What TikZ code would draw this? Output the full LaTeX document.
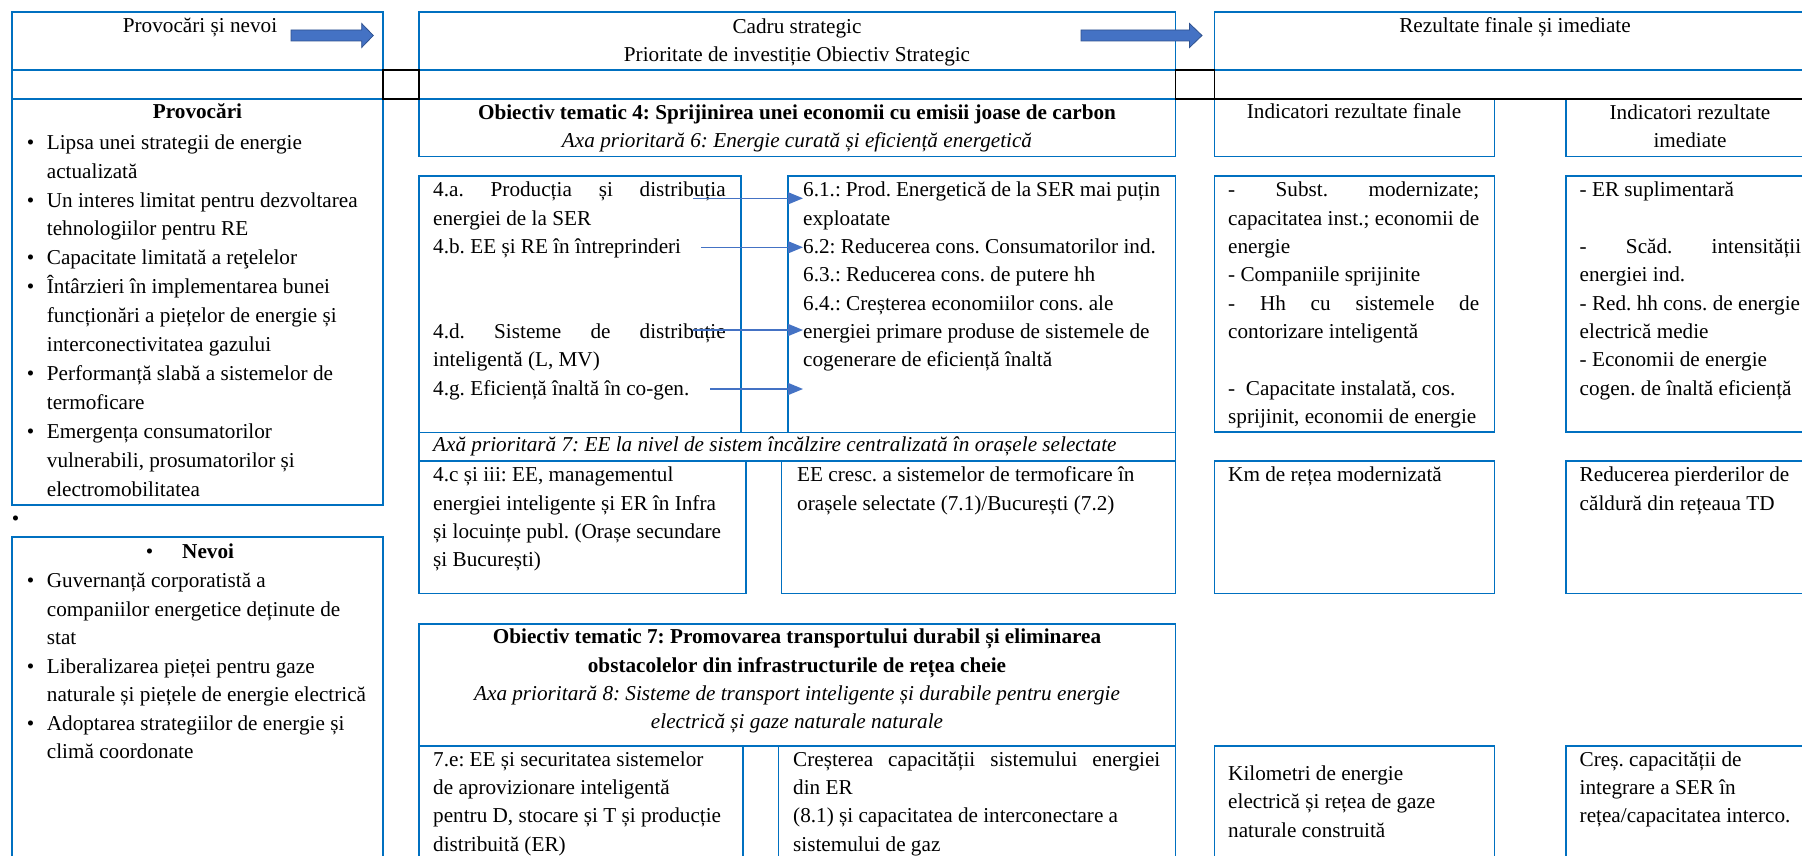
\documentclass[tikz,border=0pt]{standalone}
\usepackage{fontspec}
\setmainfont{Liberation Serif}
\usetikzlibrary{arrows.meta}
\definecolor{boxblue}{HTML}{0070C0}
\definecolor{arrowblue}{HTML}{4472C4}
\definecolor{arrowdark}{HTML}{2F528F}
\newcommand{\bodyfont}{\fontsize{21.2pt}{28.3pt}\selectfont\frenchspacing\hyphenpenalty=10000 }
\newcommand{\provfont}{\fontsize{21.2pt}{28.9pt}\selectfont\frenchspacing\hyphenpenalty=10000 }
\newcommand{\nevfont}{\fontsize{21.2pt}{28.5pt}\selectfont\frenchspacing\hyphenpenalty=10000 }
\newcommand{\bul}{\leavevmode\llap{•\hspace{12.5pt}}}
\newcommand{\js}[2]{\leavevmode\makebox[#1pt][s]{\spaceskip=0pt\xspaceskip=0pt #2}}
\begin{document}
\begin{tikzpicture}[x=1pt,y=-1pt,
  bx/.style={draw=boxblue, line width=1.6pt},
  blk/.style={draw=black, line width=1.6pt},
  txt/.style={anchor=north west, inner sep=0pt, align=flush left, font=\bodyfont},
  ltxt/.style={anchor=base west, inner sep=0pt, font=\bodyfont},
  ctxt/.style={anchor=base, inner sep=0pt, font=\bodyfont},
  mtxt/.style={anchor=north, inner sep=0pt, align=flush center, font=\bodyfont},
  conn/.style={draw=arrowblue, line width=1.4pt, -{Triangle[length=15pt,width=12pt]}},
  bigarr/.style={fill=arrowblue, draw=arrowdark, line width=0.8pt}
]
\useasboundingbox (0,0) rectangle (1802,856);
\fill[white] (0,0) rectangle (1802,856);
\clip (0,0) rectangle (1802,856);

% ---------- boxes: left column
\draw[bx] (12.2,12.3) rectangle (382.7,70);
\draw[bx] (12.2,70) rectangle (382.7,99);
\draw[bx] (12.2,99) rectangle (382.7,505);
\draw[bx] (12.2,536.7) rectangle (382.7,880);
% ---------- boxes: middle column
\draw[bx] (419,12.3) rectangle (1175.5,70);
\draw[bx] (419,70) rectangle (1175.5,99);
\draw[bx] (419,99) rectangle (1175.5,156.7);
\draw[bx] (419,175.7) rectangle (741,432.3);
\draw[bx] (788,175.7) rectangle (1175.5,432.3);
\draw[bx] (419,432.3) rectangle (1175.5,461);
\draw[bx] (419,461) rectangle (746,593.3);
\draw[bx] (781.6,461) rectangle (1175.5,593.3);
\draw[bx] (419,624) rectangle (1175.5,745.7);
\draw[bx] (419,745.7) rectangle (742.9,880);
\draw[bx] (778.6,745.7) rectangle (1175.5,880);
% ---------- boxes: right column
\draw[bx] (1214.4,12.3) rectangle (1816,70);
\draw[bx] (1214.4,70) rectangle (1816,99);
\draw[bx] (1214.4,99) rectangle (1494.3,156.7);
\draw[bx] (1565.8,99) rectangle (1816,156.7);
\draw[bx] (1214.4,175.7) rectangle (1494.3,431.7);
\draw[bx] (1565.8,175.7) rectangle (1816,431.7);
\draw[bx] (1214.4,461) rectangle (1494.3,593.3);
\draw[bx] (1565.8,461) rectangle (1816,593.3);
\draw[bx] (1214.4,745.7) rectangle (1494.3,880);
\draw[bx] (1565.8,745.7) rectangle (1816,880);
% ---------- black cells
\draw[blk] (382.7,70) rectangle (419,99);
\draw[blk] (1175.5,70) rectangle (1214.4,99);
\draw[blk] (1214.4,99) -- (1816,99);

% ---------- block arrows
\draw[bigarr] (291,30) -- (361.7,30) -- (361.7,23.5) -- (373.3,35.5) -- (361.7,47.5) -- (361.7,41) -- (291,41) -- cycle;
\draw[bigarr] (1081,30) -- (1189.5,30) -- (1189.5,23.5) -- (1202,35.5) -- (1189.5,47.5) -- (1189.5,41) -- (1081,41) -- cycle;

% ---------- header texts
\node[ctxt] (hprov) at (200,33) {Provocări și nevoi};
\node[mtxt, text width=700pt] (hcadru) at (797,13.2) {\strut Cadru strategic\\Prioritate de investiție Obiectiv Strategic};
\node[ctxt] (hrez) at (1515,33) {Rezultate finale și imediate};

% ---------- left column
\node[ctxt] (tprov) at (197.5,119) {\textbf{Provocări}};
\node[txt, font=\provfont, text width=335pt] (lprov) at (46.7,128.8) {\strut\bul Lipsa unei strategii de energie\\
actualizată\\
\bul Un interes limitat pentru dezvoltarea\\
tehnologiilor pentru RE\\
\bul Capacitate limitată a reţelelor\\
\bul Întârzieri în implementarea bunei\\
funcționări a piețelor de energie și\\
interconectivitatea gazului\\
\bul Performanță slabă a sistemelor de\\
termoficare\\
\bul Emergența consumatorilor\\
vulnerabili, prosumatorilor și\\
electromobilitatea};
\node[ltxt] (lonebul) at (11.6,525.5) {•};
\node[ltxt] (tnev) at (182,558) {\llap{•\hspace{29pt}}\textbf{Nevoi}};
\node[txt, font=\nevfont, text width=335pt] (lnev) at (46.7,567.75) {\strut\bul Guvernanță corporatistă a\\
companiilor energetice deținute de\\
stat\\
\bul Liberalizarea pieței pentru gaze\\
naturale și piețele de energie electrică\\
\bul Adoptarea strategiilor de energie și\\
climă coordonate};

% ---------- middle column
\node[mtxt, text width=740pt] (ob4) at (797,99.2) {\strut\textbf{Obiectiv tematic 4: Sprijinirea unei economii cu emisii joase de carbon}\\
\textit{Axa prioritară 6: Energie curată și eficiență energetică}};
\node[txt, text width=300pt] (pa) at (433,176.9) {\strut\js{292.5}{4.a. Producția și distribuția}\\
energiei de la SER\\
4.b. EE și RE în întreprinderi\\
\mbox{}\\
\mbox{}\\
\js{292.5}{4.d. Sisteme de distribuție}\\
inteligentă (L, MV)\\
4.g. Eficiență înaltă în co-gen.};
\node[txt, text width=400pt] (pb) at (803,176.9) {\strut\js{357}{6.1.: Prod. Energetică de la SER mai puțin}\\
exploatate\\
6.2: Reducerea cons. Consumatorilor ind.\\
6.3.: Reducerea cons. de putere hh\\
6.4.: Creșterea economiilor cons. ale\\
energiei primare produse de sistemele de\\
cogenerare de eficiență înaltă};
\node[ltxt] (ax7) at (433,451.7) {\textit{Axă prioritară 7: EE la nivel de sistem încălzire centralizată în orașele selectate}};
\node[txt, text width=330pt] (pd) at (433,461.9) {\strut 4.c și iii: EE, managementul\\
energiei inteligente și ER în Infra\\
și locuințe publ. (Orașe secundare\\
și București)};
\node[txt, text width=400pt] (pe) at (797,461.9) {\strut EE cresc. a sistemelor de termoficare în\\
orașele selectate (7.1)/București (7.2)};
\node[mtxt, text width=740pt] (ob7) at (797,623.9) {\strut\textbf{Obiectiv tematic 7: Promovarea transportului durabil și eliminarea}\\
\textbf{obstacolelor din infrastructurile de rețea cheie}\\
\textit{Axa prioritară 8: Sisteme de transport inteligente și durabile pentru energie}\\
\textit{electrică și gaze naturale naturale}};
\node[txt, text width=330pt] (pf) at (433,746.2) {\strut 7.e: EE și securitatea sistemelor\\
de aprovizionare inteligentă\\
pentru D, stocare și T și producție\\
distribuită (ER)};
\node[txt, text width=400pt] (pg) at (793,746.2) {\strut\js{367}{Creșterea capacității sistemului energiei}\\
din ER\\
(8.1) și capacitatea de interconectare a\\
sistemului de gaz};

% ---------- right column
\node[ctxt] (ifin) at (1354,119) {Indicatori rezultate finale};
\node[mtxt, text width=240pt] (iimd) at (1690,99.2) {\strut Indicatori rezultate\\imediate};
\node[txt, text width=300pt] (ph) at (1228,176.9) {\strut\js{251}{- Subst. modernizate;}\\
\js{251}{capacitatea inst.; economii de}\\
energie\\
- Companiile sprijinite\\
\js{251}{- Hh cu sistemele de}\\
contorizare inteligentă\\
\mbox{}\\
-\ \ Capacitate instalată, cos.\\
sprijinit, economii de energie};
\node[txt, text width=300pt] (pi) at (1579.5,176.9) {\strut - ER suplimentară\\
\mbox{}\\
\js{221.5}{- Scăd. intensității}\\
energiei ind.\\
- Red. hh cons. de energie\\
electrică medie\\
- Economii de energie\\
cogen. de înaltă eficiență};
\node[ltxt] (pj) at (1228,481.7) {Km de rețea modernizată};
\node[txt, text width=300pt] (pk) at (1579.5,461.9) {\strut Reducerea pierderilor de\\
căldură din rețeaua TD};
\node[txt, text width=300pt] (pl) at (1228,760.5) {\strut Kilometri de energie\\
electrică și rețea de gaze\\
naturale construită};
\node[txt, text width=300pt] (pm) at (1579.5,746.2) {\strut Creș. capacității de\\
integrare a SER în\\
rețea/capacitatea interco.};

% ---------- connectors
\coordinate (c1s) at (693,198.3); \coordinate (c1e) at (803,198.3);
\coordinate (c2s) at (701,247.3); \coordinate (c2e) at (803,247.3);
\coordinate (c3s) at (693,330);   \coordinate (c3e) at (803,330);
\coordinate (c4s) at (710,389);   \coordinate (c4e) at (803,389);
\draw[conn] (c1s) -- (c1e);
\draw[conn] (c2s) -- (c2e);
\draw[conn] (c3s) -- (c3e);
\draw[conn] (c4s) -- (c4e);
\end{tikzpicture}
\end{document}
